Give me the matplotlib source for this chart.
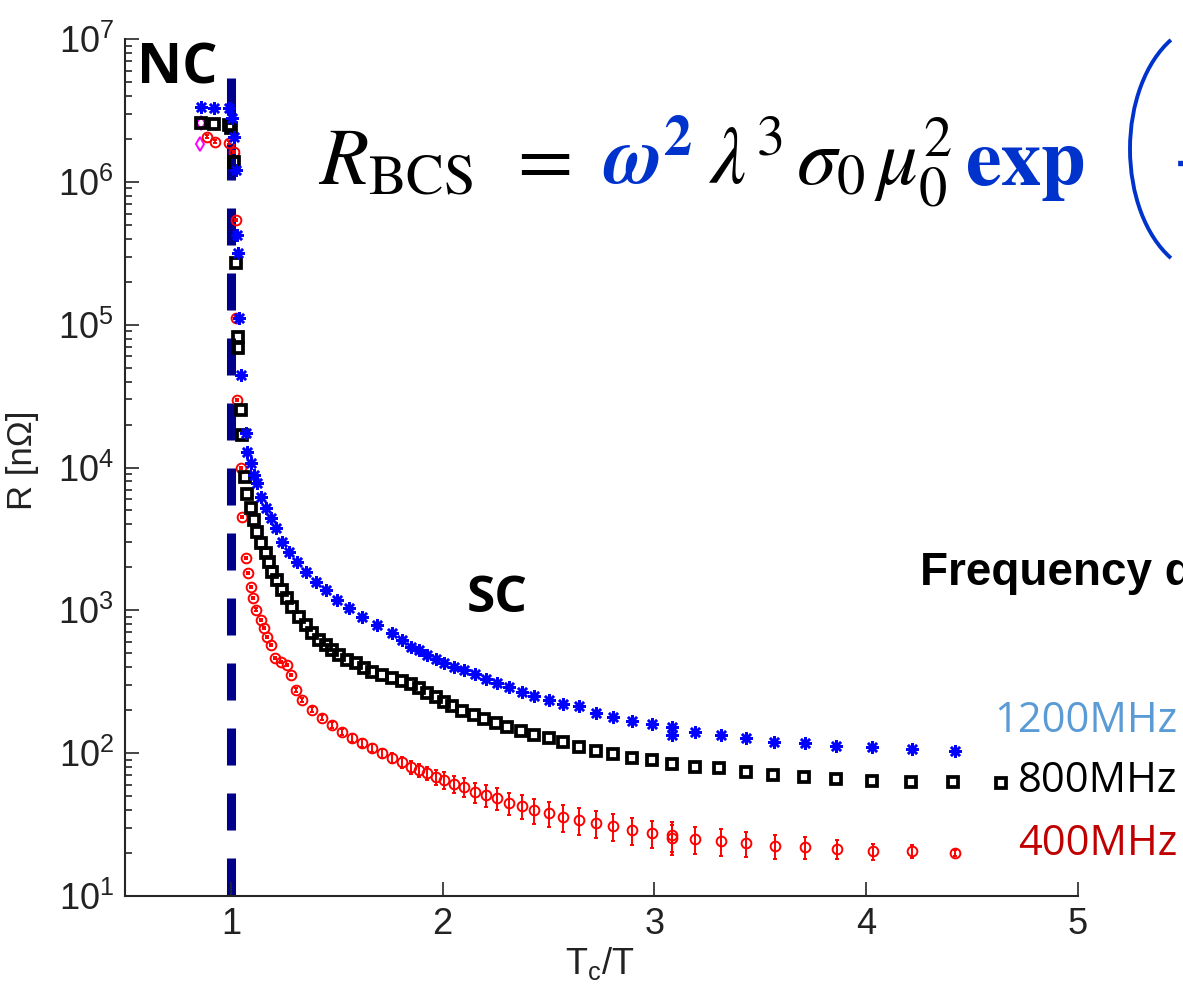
import numpy as np
import matplotlib
matplotlib.use('Agg')
import matplotlib.pyplot as plt
from matplotlib.patches import Arc
from matplotlib.ticker import LogLocator, LogFormatterMathtext, NullFormatter

plt.rcParams['font.family'] = ['Liberation Sans', 'DejaVu Sans']
plt.rcParams['mathtext.fontset'] = 'custom'
plt.rcParams['mathtext.rm'] = 'Liberation Sans'
plt.rcParams['mathtext.it'] = 'Liberation Sans:italic'
plt.rcParams['mathtext.bf'] = 'Liberation Sans:bold'

# surface resistance vs reduced temperature Tc/T
blue_x = [0.858, 0.921, 0.992, 1.006, 1.016, 1.024, 1.030, 1.034, 1.039, 1.047,
          1.071, 1.077, 1.094, 1.110, 1.124, 1.142, 1.165, 1.189, 1.213, 1.242,
          1.275, 1.313, 1.354, 1.402, 1.449, 1.502, 1.559, 1.620, 1.691, 1.762,
          1.809, 1.852, 1.889, 1.927, 1.970, 2.008, 2.055, 2.102, 2.154, 2.206,
          2.258, 2.315, 2.376, 2.433, 2.504, 2.570, 2.645, 2.726, 2.806, 2.896,
          2.990, 3.085, 3.085, 3.193, 3.316, 3.434, 3.566, 3.713, 3.859, 4.029,
          4.218, 4.421]
blue_y = [3.35e6, 3.30e6, 3.30e6, 2.81e6, 2.07e6, 1.21e6, 4.26e5, 3.18e5, 1.12e5, 4.45e4,
          1.75e4, 1.29e4, 1.08e4, 8.87e3, 7.80e3, 6.22e3, 5.21e3, 4.44e3, 3.78e3, 3.01e3,
          2.56e3, 2.18e3, 1.86e3, 1.58e3, 1.39e3, 1.18e3, 1.04e3, 900, 791, 695,
          621, 555, 528, 488, 457, 428, 402, 383, 359, 331,
          310, 291, 268, 252, 236, 221, 214, 191, 179, 168,
          160, 152, 134, 141, 134, 128, 120, 118, 112, 110,
          107, 103]

black_x = [0.858, 0.921, 0.992, 1.001, 1.016, 1.024, 1.034, 1.034, 1.047, 1.053,
           1.068, 1.077, 1.096, 1.110, 1.124, 1.142, 1.165, 1.181, 1.195, 1.219,
           1.242, 1.266, 1.290, 1.323, 1.354, 1.384, 1.417, 1.449, 1.479, 1.512,
           1.549, 1.590, 1.630, 1.667, 1.715, 1.762, 1.809, 1.852, 1.889, 1.927,
           1.970, 2.008, 2.046, 2.093, 2.149, 2.197, 2.253, 2.305, 2.371, 2.433,
           2.504, 2.570, 2.645, 2.726, 2.806, 2.896, 2.990, 3.085, 3.193, 3.307,
           3.430, 3.562, 3.704, 3.859, 4.029, 4.213, 4.411, 4.638]
black_y = [2.59e6, 2.55e6, 2.51e6, 2.39e6, 1.38e6, 2.71e5, 8.22e4, 6.89e4, 2.53e4, 1.69e4,
           8.59e3, 6.53e3, 5.21e3, 4.30e3, 3.54e3, 2.96e3, 2.52e3, 2.18e3, 1.86e3, 1.63e3,
           1.39e3, 1.22e3, 1.06e3, 900, 791, 695, 621, 573, 528, 488,
           450, 428, 395, 371, 353, 336, 320, 305, 286, 264,
           248, 228, 214, 198, 185, 174, 163, 152, 143, 134,
           128, 120, 110, 103, 98.6, 92.5, 89.5, 84, 80, 78.7,
           73.8, 70.3, 68, 66, 63.8, 62.8, 62.8, 61.8]

red_x = [0.888, 0.926, 0.992, 1.016, 1.024, 1.024, 1.030, 1.047, 1.053, 1.071,
         1.082, 1.096, 1.105, 1.120, 1.142, 1.157, 1.171, 1.189, 1.209, 1.236,
         1.266, 1.283, 1.307, 1.337, 1.384, 1.431, 1.479, 1.526, 1.573, 1.620,
         1.667, 1.715, 1.762, 1.809, 1.852, 1.889, 1.927, 1.970, 2.008, 2.055,
         2.102, 2.154, 2.206, 2.258, 2.315, 2.376, 2.433, 2.504, 2.570, 2.645,
         2.726, 2.806, 2.896, 2.990, 3.085, 3.085, 3.193, 3.316, 3.434, 3.570,
         3.713, 3.864, 4.034, 4.218, 4.421]
red_y = [2.07e6, 1.91e6, 1.88e6, 1.62e6, 5.42e5, 1.12e5, 2.97e4, 9.93e3, 4.51e3, 2.33e3,
         1.83e3, 1.46e3, 1.22e3, 1.01e3, 857, 753, 652, 573, 464, 435,
         415, 353, 277, 236, 201, 177, 157, 141, 128, 118,
         109, 100, 92.5, 86.7, 80, 76.2, 72.6, 68, 64.9, 60.8,
         57.9, 53.4, 50.9, 48.5, 44.8, 42.6, 40, 38.1, 35.7, 34.0,
         32.4, 30.9, 29, 27.6, 26.7, 25.5, 25.1, 24.3, 23.5, 22.4,
         22, 21.3, 20.6, 20.6, 20.0]
# relative error of the 400 MHz points, percent
red_err_pct = [2] * 22 + [3, 3, 4, 4, 5, 5, 6] + [6, 7, 7, 8, 9, 10, 10, 11, 12] \
    + [13, 14, 15, 16, 17, 18, 18, 19, 20, 20] + [21, 21, 22, 22, 22, 22, 24, 24, 22] \
    + [21, 20, 19, 17, 15, 13, 10, 5]

magenta_x = [0.855, 0.858]
magenta_y = [1.85e6, 2.6e6]

tc_ratio = 1.0
tc_line = [5.35e6, 10]

freq_labels = ['1200MHz', '800MHz', '400MHz']
freq_colors = ['#5B9BD5', 'black', '#C00000']
freq_baselines = [732, 792, 855]

W, H, DPI = 1183, 999, 100
fig = plt.figure(figsize=(W / DPI, H / DPI), dpi=DPI)
ax = fig.add_axes([125 / W, 1 - 896 / H, (1078 - 125) / W, (896 - 39) / H])


def fx(px):
    return px / W


def fy(py):
    return 1 - py / H


ax.plot([tc_ratio, tc_ratio], tc_line, color='#00008B', lw=6.5,
        ls=(0, (4.1, 3.1)), dash_capstyle='butt', zorder=1)

red_y_arr = np.array(red_y)
red_err = red_y_arr * np.array(red_err_pct) / 100.0
ax.errorbar(red_x, red_y, yerr=red_err, fmt='o', ms=7, mfc='none', mec='red',
            mew=1.4, ecolor='red', elinewidth=1.4, capsize=1.5, zorder=3)
ax.plot(magenta_x, magenta_y, 'd', ms=7, mfc='none', mec='magenta', mew=1.4, zorder=3)
ax.plot(black_x, black_y, 's', ms=7.5, mfc='none', mec='black', mew=2.7, zorder=4)
ax.plot(blue_x, blue_y, ls='none', marker=(8, 2, 0), ms=9, mec='blue', mew=1.8, zorder=5)

ax.set_yscale('log')
ax.set_xlim(0.5, 5)
ax.set_ylim(10, 1e7)
ax.set_xticks([1, 2, 3, 4, 5])
ax.yaxis.set_major_locator(LogLocator(base=10, numticks=10))
ax.yaxis.set_major_formatter(LogFormatterMathtext())
ax.yaxis.set_minor_locator(LogLocator(base=10, subs=np.arange(2, 10), numticks=100))
ax.yaxis.set_minor_formatter(NullFormatter())
for side in ['top', 'right']:
    ax.spines[side].set_visible(False)
for side in ['left', 'bottom']:
    ax.spines[side].set_linewidth(1.5)
    ax.spines[side].set_color('#262626')
ax.tick_params(which='both', direction='in', colors='#262626', width=1.2,
               labelsize=26, labelcolor='#222222')
ax.tick_params(which='major', length=10, pad=8)
ax.tick_params(which='minor', length=5)

ax.set_ylabel('R [nΩ]', fontsize=25, color='#222222', va='center')
ax.yaxis.set_label_coords(-0.108, 0.509)
ax.set_xlabel(r'T$_{\mathrm{c}}$/T', fontsize=26, color='#222222')
ax.xaxis.set_label_coords(0.498, -0.057)

# phase annotations
fig.text(fx(137), fy(83), 'NC', fontsize=40, fontweight='bold', family='Open Sans')
fig.text(fx(467), fy(612), 'SC', fontsize=37, fontweight='bold', family='Open Sans')

# BCS resistance formula, built piece by piece for the two colours
fs = 58
blue_eq = '#0033CC'
base = fy(185)
fig.text(fx(318), base, r'$R_{\mathrm{BCS}}$', fontsize=fs, math_fontfamily='stix')
fig.text(fx(517), base, '=', fontsize=fs, family='STIXGeneral')
fig.text(fx(603), base, r'$\boldsymbol{\omega}^{\mathbf{2}}$', fontsize=fs,
         color=blue_eq, math_fontfamily='stix')
fig.text(fx(709), base, r'$\lambda^3$', fontsize=fs, math_fontfamily='stix')
fig.text(fx(796), base, r'$\sigma_0$', fontsize=fs, math_fontfamily='stix')
fig.text(fx(874), base, r'$\mu_0^2$', fontsize=fs, math_fontfamily='stix')
fig.text(fx(965), base, r'$\mathbf{exp}$', fontsize=fs, color=blue_eq, math_fontfamily='stix')
fig.text(fx(1172), base, r'$-\frac{\Delta}{k_BT}$', fontsize=fs, color=blue_eq,
         math_fontfamily='stix')
paren = Arc((1210 / DPI, (H - 149) / DPI), 160 / DPI, 250 / DPI, theta1=109.7,
            theta2=250.3, color=blue_eq, lw=2.8, transform=fig.dpi_scale_trans)
fig.add_artist(paren)

fig.text(fx(920), fy(585), 'Frequency dependence', fontsize=33, fontweight='bold',
         family='Liberation Sans')

for lab, col, bl in zip(freq_labels, freq_colors, freq_baselines):
    fig.text(fx(1177), fy(bl), lab, fontsize=30, color=col, ha='right',
             family='Open Sans')

fig.savefig('out.png', dpi=DPI)
